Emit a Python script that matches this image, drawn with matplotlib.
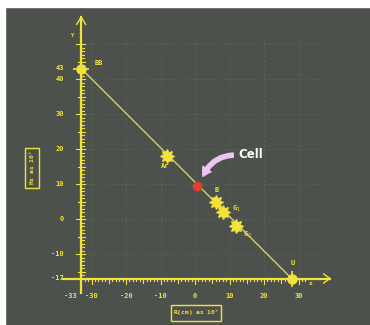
import numpy as np
import matplotlib
matplotlib.use('Agg')
import matplotlib.pyplot as plt
from matplotlib.patches import Rectangle, FancyArrowPatch

# data
names=['BB','Ar','B','G1','G2','U']
xs=[-33,-8,6,8,12,28]
ys=[43,18,5,2,-2,-17]
kinds=['cross','star','star','star','star','cross']
cell=(0.5,9.5)
xticks=[-30,-20,-10,0,10,20,30]
yticks=[43,40,30,20,10,0,-10,-17]

bg='#4d514c'
yel='#f2e23c'

fig=plt.figure(figsize=(3.7,3.25),dpi=100)
fig.patch.set_facecolor(bg)
ax=fig.add_axes([0,0,1,1])
ax.set_facecolor(bg)
ax.axis('off')

# pixel -> data: x=(px-195)/3.45, y=(219-py)/3.5
ax.set_xlim(-195/3.45,175/3.45)
ax.set_ylim(-106/3.5,219/3.5)

ax0=-33
ay0=-17

# faint dotted grid
for g in range(-30,31,10):
  ax.plot([g,g],[ay0,52],ls=(0,(1,3)),color='#656962',lw=0.8,zorder=1)
for g in range(-10,51,10):
  ax.plot([ax0,36],[g,g],ls=(0,(1,3)),color='#656962',lw=0.8,zorder=1)

# axes with arrow heads
ax.plot([ax0,ax0],[-21,57.7],color=yel,lw=1.6,zorder=3)
ax.plot([ax0-1.3,ax0,ax0+1.3],[55.6,57.7,55.6],color=yel,lw=1.0,zorder=3)
ax.plot([-38.3,39.1],[ay0,ay0],color=yel,lw=1.6,zorder=3)
ax.plot([37.3,39.1,37.3],[ay0+1.3,ay0,ay0-1.3],color=yel,lw=1.0,zorder=3)

# ticks
for t in range(-16,51):
  if t%10==0: l,r=1.6,1.0
  elif t%5==0: l,r=1.0,1.0
  else: l,r=0.3,0.9
  ax.plot([ax0-l,ax0+r],[t,t],color=yel,lw=0.8,zorder=3)
for t in range(-32,33):
  if t%10==0: d=1.6
  elif t%5==0: d=1.2
  else: d=0.8
  ax.plot([t,t],[ay0,ay0-d],color=yel,lw=0.8,zorder=3)

# tick labels
for t in xticks:
  ax.text(t,-22,str(t),color=yel,fontsize=5,fontweight='bold',family='DejaVu Sans Mono',ha='center',va='center')
ax.text(ax0-1.2,-22,'-33',color=yel,fontsize=5,fontweight='bold',family='DejaVu Sans Mono',ha='right',va='center')
for t in yticks:
  ax.text(-38.0,t,str(t),color=yel,fontsize=5,fontweight='bold',family='DejaVu Sans Mono',ha='right',va='center')
ax.text(-35.5,52.5,'Y',color=yel,fontsize=4,fontweight='bold',family='DejaVu Sans Mono',ha='center',va='center')
ax.text(33.5,-18.5,'x',color=yel,fontsize=4.5,fontweight='bold',family='DejaVu Sans Mono',ha='center',va='center')

# boxed axis titles
ax.text((32-195)/3.45,(219-168)/3.5,'Hz as 10$^3$',color=yel,fontsize=4.5,fontweight='bold',family='DejaVu Sans Mono',
  rotation=90,ha='center',va='center',bbox=dict(boxstyle='square,pad=0.4',fc='none',ec=yel,lw=1.0))
ax.text((196-195)/3.45,(219-313)/3.5,'R(cm) as 10$^3$',color=yel,fontsize=4.5,fontweight='bold',family='DejaVu Sans Mono',
  ha='center',va='center',bbox=dict(boxstyle='square,pad=0.4',fc='none',ec=yel,lw=1.0))

# diagonal line
ax.plot([xs[0],xs[-1]],[ys[0],ys[-1]],color='#d6cf6a',lw=1.0,zorder=2)

# points
for n,x,y,k in zip(names,xs,ys,kinds):
  if k=='cross':
    ax.plot(x,y,'o',color=yel,ms=6.5,zorder=5)
    ax.plot(x,y,'+',color=yel,ms=11,mew=1.2,zorder=5)
  else:
    ax.plot(x,y,marker=(8,1,0),color=yel,ms=10,zorder=5)
    ax.plot(x,y,marker=(6,1,20),color=yel,ms=8,zorder=5)

lab={'BB':(3.8,1.6,'left'),'Ar':(-0.6,-3.0,'center'),'B':(0.3,3.4,'center'),
  'G1':(2.6,1.0,'left'),'G2':(1.8,-2.6,'left'),'U':(0.3,4.3,'center')}
for n,x,y in zip(names,xs,ys):
  dx,dy,ha=lab[n]
  txt={'G1':'G$_1$','G2':'G$_2$'}.get(n,n)
  ax.text(x+dx,y+dy,txt,color=yel,fontsize=5,fontweight='bold',family='DejaVu Sans Mono',ha=ha,va='center',zorder=6)

# the cell
ax.plot(cell[0],cell[1],'o',color='#e0402a',ms=6,zorder=6)
ax.text((251-195)/3.45,(219-154)/3.5,'Cell',color='white',fontsize=8.5,fontweight='bold',family='DejaVu Sans',ha='center',va='center')
arr=FancyArrowPatch(((236-195)/3.45,(219-155)/3.5),((202-195)/3.45,(219-179)/3.5),
  connectionstyle='arc3,rad=0.35',arrowstyle='simple,head_width=7,head_length=6,tail_width=3',
  color='#ecc6f2',zorder=7)
ax.add_patch(arr)

# white photo border left and top
fig.add_artist(Rectangle((0,0),5/370,1,transform=fig.transFigure,color='white',zorder=10))
fig.add_artist(Rectangle((0,1-7/325),1,7/325,transform=fig.transFigure,color='white',zorder=10))

plt.savefig('out.png',dpi=100,facecolor=fig.get_facecolor())
